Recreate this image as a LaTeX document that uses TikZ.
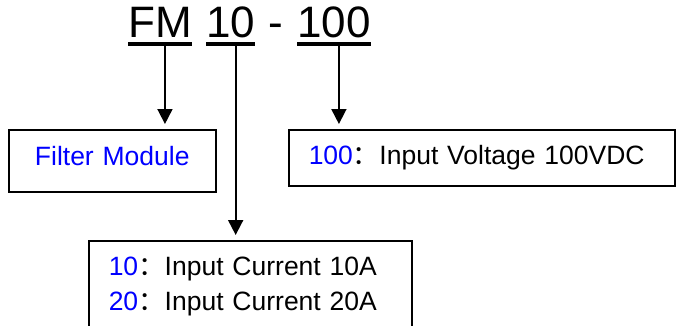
\documentclass[tikz,border=0pt]{standalone}
\usepackage{fontspec}
\setmainfont{Liberation Sans}
\newfontfamily\cjk{Noto Sans CJK SC}
\usetikzlibrary{positioning,arrows.meta}
\definecolor{ink}{HTML}{000000}
\definecolor{codeblue}{HTML}{0000FF}

\begin{document}
\begin{tikzpicture}[x=1pt,y=1pt,font=\fontsize{26.5}{35}\selectfont,
     part/.style={inner sep=0pt,anchor=base west,font=\fontsize{44}{48}\selectfont},
     uline/.style={line width=4pt},
     box/.style={draw=ink,line width=1.5pt,anchor=north west,inner xsep=20pt,align=left},
     arr/.style={line width=1.8pt,-{Triangle[length=15pt,width=15pt]},shorten >=5pt}]
    \useasboundingbox (0,0) rectangle (676,325);
    \clip (0,0) rectangle (676,325);
    \node[part](fm) at (128,288){FM}; \node[part](cur) at (206,288){10};
    \node[part](dash) at (268,288){-}; \node[part](volt) at (297,288){100};
    \foreach \n in {fm,cur,volt}{\draw[uline]([yshift=-7pt]\n.base west)--([yshift=-7pt]\n.base east);
      \coordinate(tap\n) at ([xshift=5pt,yshift=-7pt]\n.base);}
    \node[box,text width=167pt,align=center,text=codeblue,text height=19pt,text depth=9pt,inner ysep=17pt](fmbox) at (8,196){Filter Module};
    \node[box,text width=346pt,minimum height=56pt](voltbox) at (288,196){{\color{codeblue}100}{\cjk ：}Input Voltage 100VDC};
    \node[box,text width=283pt,text depth=60pt,inner ysep=16pt](curbox) at (88,85){{\color{codeblue}10}{\cjk ：}Input Current 10A\\
      {\color{codeblue}20}{\cjk ：}Input Current 20A};
    \draw[arr](tapfm)--(tapfm|-fmbox.north); \draw[arr](tapcur)--(tapcur|-curbox.north);
    \draw[arr](tapvolt)--(tapvolt|-voltbox.north);
  \end{tikzpicture}
\end{document}
